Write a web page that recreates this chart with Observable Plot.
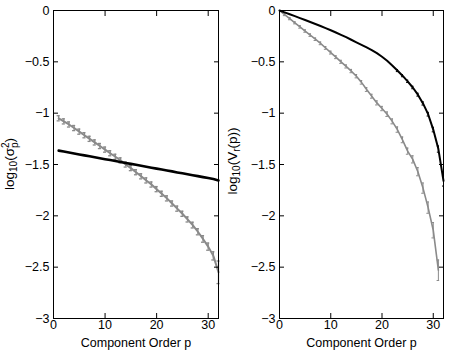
<!DOCTYPE html>
<html><head><meta charset="utf-8">
<script src="https://cdn.jsdelivr.net/npm/d3@7"></script>
<script src="https://cdn.jsdelivr.net/npm/@observablehq/plot@0.6"></script>
<style>
body{margin:0;background:#fff;}
#wrap{position:relative;width:451px;height:350px;font-family:"Liberation Sans",Arial,sans-serif;}
#wrap svg{position:absolute;top:0;}
</style></head><body><div id="wrap"></div>
<script>
// ---- data ----
const xTicks = [0, 10, 20, 30];
const yTicks = [-3, -2.5, -2, -1.5, -1, -0.5, 0];
const xLabel = "Component Order p";

// Left panel: log10(sigma_p^2), p = 1..32
const pLeft = [1,2,3,4,5,6,7,8,9,10,11,12,13,14,15,16,17,18,19,20,21,22,23,24,25,26,27,28,29,30,31,32];
const leftBlack = [-1.365,-1.374,-1.383,-1.393,-1.402,-1.411,-1.420,-1.429,-1.439,-1.448,-1.457,-1.466,-1.475,-1.485,-1.494,-1.503,-1.512,-1.521,-1.531,-1.540,-1.549,-1.558,-1.567,-1.577,-1.586,-1.595,-1.604,-1.613,-1.623,-1.632,-1.642,-1.655];
const leftGray = [-1.05,-1.08,-1.11,-1.145,-1.18,-1.215,-1.25,-1.285,-1.32,-1.355,-1.39,-1.425,-1.46,-1.50,-1.535,-1.575,-1.615,-1.655,-1.695,-1.74,-1.785,-1.83,-1.88,-1.93,-1.98,-2.035,-2.09,-2.155,-2.225,-2.30,-2.39,-2.55];
const leftGrayErr = [0.025,0.025,0.025,0.025,0.025,0.025,0.025,0.025,0.025,0.025,0.025,0.025,0.025,0.025,0.025,0.025,0.025,0.025,0.025,0.025,0.025,0.025,0.025,0.025,0.025,0.025,0.028,0.03,0.032,0.035,0.04,0.11];

// Right panel: log10(V_r(p))
const pRightBlack = [0,1,2,3,4,5,6,7,8,9,10,11,12,13,14,15,16,17,18,19,20,21,22,23,24,25,26,27,28,29,30,31,32];
const rightBlack = [0,-0.018,-0.037,-0.055,-0.074,-0.093,-0.112,-0.131,-0.151,-0.171,-0.192,-0.214,-0.237,-0.26,-0.285,-0.31,-0.335,-0.36,-0.385,-0.415,-0.45,-0.49,-0.535,-0.585,-0.635,-0.69,-0.75,-0.82,-0.905,-1.01,-1.16,-1.35,-1.66];
const rightBlackErr = [0,0.005,0.005,0.005,0.005,0.005,0.005,0.005,0.005,0.005,0.005,0.005,0.005,0.006,0.006,0.006,0.006,0.007,0.007,0.007,0.008,0.008,0.009,0.01,0.01,0.011,0.012,0.014,0.016,0.018,0.022,0.03,0.05];
const pRightGray = [0,1,2,3,4,5,6,7,8,9,10,11,12,13,14,15,16,17,18,19,20,21,22,23,24,25,26,27,28,29,30,31];
const rightGray = [0,-0.04,-0.08,-0.12,-0.16,-0.20,-0.24,-0.28,-0.32,-0.365,-0.41,-0.455,-0.50,-0.545,-0.59,-0.64,-0.70,-0.77,-0.835,-0.90,-0.955,-1.01,-1.08,-1.16,-1.26,-1.37,-1.45,-1.57,-1.73,-1.92,-2.14,-2.53];
const rightGrayErr = [0,0.01,0.01,0.01,0.012,0.012,0.012,0.012,0.013,0.013,0.014,0.014,0.015,0.015,0.016,0.016,0.017,0.018,0.019,0.02,0.021,0.022,0.024,0.026,0.028,0.03,0.035,0.04,0.05,0.055,0.075,0.10];

const GRAY = "#8a8a8a";
const FONT = "'Liberation Sans', Arial, Helvetica, sans-serif";

function rows(ps, vs, es) {
  return ps.map((p, i) => ({p, v: vs[i], e: es ? es[i] : 0}));
}

function errorMarks(all, color, w, minErr, cap) {
  const data = all.filter(d => d.e >= minErr);
  return [
    Plot.ruleX(data, {x: "p", y1: d => d.v - d.e, y2: d => d.v + d.e, stroke: color, strokeWidth: w}),
    Plot.ruleY(data, {y: d => d.v - d.e, x1: d => d.p - cap, x2: d => d.p + cap, stroke: color, strokeWidth: w}),
    Plot.ruleY(data, {y: d => d.v + d.e, x1: d => d.p - cap, x2: d => d.p + cap, stroke: color, strokeWidth: w})
  ];
}

function panel({width, marginLeft, marginRight, lines}) {
  return Plot.plot({
    width, height: 350,
    marginLeft, marginRight, marginTop: 10, marginBottom: 32,
    style: {fontFamily: FONT, fontSize: "12.5px", color: "#000", background: "transparent"},
    x: {domain: [0, 32]},
    y: {domain: [-3, 0]},
    marks: [
      ...lines,
      Plot.frame({stroke: "#000", strokeWidth: 1}),
      Plot.axisY(yTicks, {anchor: "left", tickSize: -5, tickPadding: 9, label: null, tickFormat: d => d === 0 ? "0" : "\u2212" + Math.abs(d)}),
      Plot.axisY(yTicks, {anchor: "right", tickSize: -5, label: null, tickFormat: () => ""}),
      Plot.axisX(xTicks, {anchor: "bottom", tickSize: -5, tickPadding: 7, label: null}),
      Plot.axisX(xTicks, {anchor: "top", tickSize: -5, label: null, tickFormat: () => ""}),
      Plot.text([xLabel], {text: d => d, frameAnchor: "bottom", dy: 28, fontSize: 12.5})
    ]
  });
}

const L1 = rows(pLeft, leftBlack);
const L2 = rows(pLeft, leftGray, leftGrayErr);
const R1 = rows(pRightBlack, rightBlack, rightBlackErr);
const R2 = rows(pRightGray, rightGray, rightGrayErr);

const left = panel({
  width: 225, marginLeft: 53, marginRight: 7,
  lines: [
    ...errorMarks(L2, GRAY, 1.3, 0.001, 0.3),
    Plot.line(L2, {x: "p", y: "v", stroke: GRAY, strokeWidth: 2}),
    Plot.line(L1, {x: "p", y: "v", stroke: "#000", strokeWidth: 2.6})
  ]
});
const right = panel({
  width: 226, marginLeft: 54, marginRight: 8,
  lines: [
    ...errorMarks(R2, GRAY, 1, 0.001, 0.25),
    Plot.line(R2, {x: "p", y: "v", stroke: GRAY, strokeWidth: 1.6}),
    ...errorMarks(R1, "#000", 1, 0.01, 0.2),
    Plot.line(R1, {x: "p", y: "v", stroke: "#000", strokeWidth: 2})
  ]
});

const wrap = document.getElementById("wrap");
left.style.left = "0px";
right.style.left = "225px";
wrap.appendChild(left);
wrap.appendChild(right);

function yLabel(svg, x, y, build) {
  const t = d3.select(svg).append("text")
    .attr("transform", `translate(${x},${y}) rotate(-90)`)
    .attr("text-anchor", "middle")
    .attr("font-family", FONT)
    .attr("font-size", 13.5)
    .attr("fill", "#000");
  build(t);
}
yLabel(left, 13.5, 164, t => {
  t.append("tspan").text("log");
  t.append("tspan").attr("font-size", 10).attr("dy", 3.5).text("10");
  t.append("tspan").attr("dy", -3.5).text("(\u03c3");
  t.append("tspan").attr("font-size", 10).attr("dy", -5).text("2");
  t.append("tspan").attr("font-size", 10).attr("dx", -5.6).attr("dy", 9).text("p");
  t.append("tspan").attr("dy", -4).text(")");
});
yLabel(right, 11.5, 161, t => {
  t.append("tspan").text("log");
  t.append("tspan").attr("font-size", 10).attr("dy", 3.5).text("10");
  t.append("tspan").attr("dy", -3.5).text("(V");
  t.append("tspan").attr("font-size", 10).attr("dy", 3.5).text("r");
  t.append("tspan").attr("dy", -3.5).text("(p))");
});
</script>
</body></html>
